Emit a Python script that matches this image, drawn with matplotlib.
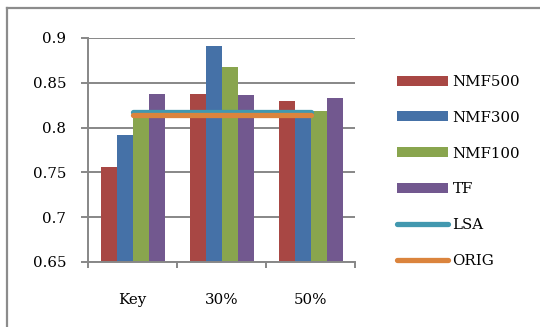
import matplotlib.pyplot as plt
from matplotlib.patches import Patch
from matplotlib.lines import Line2D
import numpy as np

categories = ["Key", "30%", "50%"]
nmf500 = [0.756, 0.837, 0.830]
nmf300 = [0.792, 0.891, 0.815]
nmf100 = [0.815, 0.868, 0.819]
tf = [0.837, 0.836, 0.833]
lsa = [0.817, 0.817, 0.817]
orig = [0.814, 0.814, 0.814]
yticks = [0.65, 0.7, 0.75, 0.8, 0.85, 0.9]
ytick_labels = ["0.65", "0.7", "0.75", "0.8", "0.85", "0.9"]

bar_series = [
    ("NMF500", nmf500, "#A84744"),
    ("NMF300", nmf300, "#4571A7"),
    ("NMF100", nmf100, "#89A54E"),
    ("TF", tf, "#72588F"),
]
line_series = [
    ("LSA", lsa, "#4298AF"),
    ("ORIG", orig, "#DB843D"),
]

plt.rcParams['font.family'] = ['DejaVu Serif']
plt.rcParams['font.size'] = 10.8

fig = plt.figure(figsize=(5.4, 3.27), dpi=100)
ax = fig.add_axes([0.1635, 0.1988, 0.494, 0.685])

x = np.arange(len(categories))
w = 0.18
handles = []
for i, (name, vals, col) in enumerate(bar_series):
    ax.bar(x + (i - 1.5) * w, vals, width=w, color=col, zorder=2)
    handles.append(Patch(facecolor=col, label=name))
for name, vals, col in line_series:
    ax.plot(x, vals, color=col, lw=3.8, solid_capstyle='round', zorder=3)
    handles.append(Line2D([], [], color=col, lw=3.8, solid_capstyle='round', label=name))

grid_col = "#878787"
ax.set_xlim(-0.5, 2.5)
ax.set_ylim(0.65, 0.9)
ax.set_yticks(yticks)
ax.set_yticklabels(ytick_labels)
ax.yaxis.grid(True, color=grid_col, lw=1.4, zorder=0)
ax.set_axisbelow(True)
ax.tick_params(axis='y', length=5, width=1.4, color=grid_col, pad=11)

ax.set_xticks(x)
ax.set_xticklabels(categories)
ax.set_xticks([-0.5, 0.5, 1.5, 2.5], minor=True)
ax.tick_params(axis='x', which='major', length=0, pad=22)
ax.tick_params(axis='x', which='minor', length=4, width=1.4, color=grid_col, direction='out')

for s in ['top', 'right']:
    ax.spines[s].set_visible(False)
for s in ['left', 'bottom']:
    ax.spines[s].set_color(grid_col)
    ax.spines[s].set_linewidth(1.4)

fig.legend(handles=handles, loc='upper left', bbox_to_anchor=(397 / 540, 1 - 75 / 327),
           frameon=False, borderpad=0, borderaxespad=0, handlelength=3.4,
           handleheight=0.65, handletextpad=0.3, labelspacing=1.45)

# outer chart border (only top and left edges visible)
fig.add_artist(Line2D([7 / 540, 7 / 540], [0, 1 - 8 / 327], color="#8C8C8C", lw=1.6))
fig.add_artist(Line2D([7 / 540, 1], [1 - 8 / 327, 1 - 8 / 327], color="#8C8C8C", lw=1.6))

fig.savefig("out.png", dpi=100)
